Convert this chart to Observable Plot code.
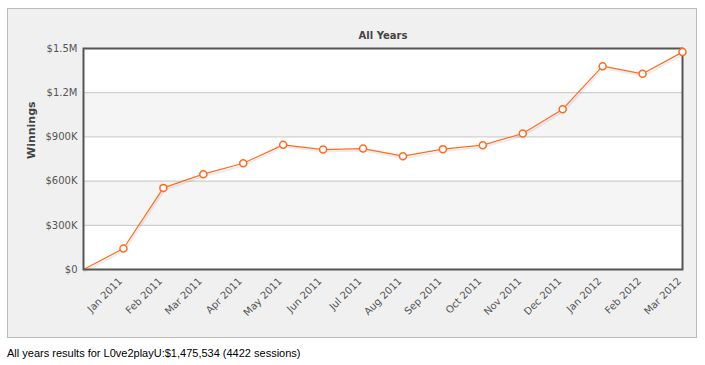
<!DOCTYPE html>
<html>
<head>
<meta charset="utf-8">
<script src="https://cdn.jsdelivr.net/npm/d3@7"></script>
<script src="https://cdn.jsdelivr.net/npm/@observablehq/plot@0.6"></script>
<style>
  html, body { margin: 0; padding: 0; background: #fff; width: 705px; height: 365px; overflow: hidden; }
  #panel { position: absolute; left: 7px; top: 8px; width: 690px; height: 330px; box-sizing: border-box;
           background: #f0f0f0; border: 1px solid #bbb; }
  #chart { position: absolute; left: 0; top: 0; }
  #caption { position: absolute; left: 7px; top: 347px; font-family: "Liberation Sans", Arial, sans-serif;
             font-size: 11px; color: #000; white-space: nowrap; }
</style>
</head>
<body>
<div id="panel"></div>
<div id="chart"></div>
<div id="caption">All years results for L0ve2playU:$1,475,534 (4422 sessions)</div>
<script>
const labels = ["", "Jan 2011", "Feb 2011", "Mar 2011", "Apr 2011", "May 2011", "Jun 2011", "Jul 2011",
  "Aug 2011", "Sep 2011", "Oct 2011", "Nov 2011", "Dec 2011", "Jan 2012", "Feb 2012", "Mar 2012"];
const winnings = [0, 142500, 554000, 647000, 721000, 846000, 814000, 821000,
  769000, 817000, 844000, 923000, 1088000, 1380000, 1328000, 1475534];
const yTicks = [0, 300000, 600000, 900000, 1200000, 1500000];
const bandLow = [300000, 900000];
const bandHigh = [600000, 1200000];

const data = labels.map((l, i) => ({label: l, value: winnings[i]}));
const bands = bandLow.map((lo, i) => ({lo, hi: bandHigh[i]}));
const fmt = v => v === 0 ? "$0" : v >= 1e6 ? "$" + (v / 1e6) + "M" : "$" + (v / 1e3) + "K";
const orange = "#ff6a22";

const chart = Plot.plot({
  width: 705, height: 340,
  marginLeft: 83, marginRight: 23, marginTop: 48, marginBottom: 71,
  style: {background: "transparent", fontFamily: "'DejaVu Sans', sans-serif", fontSize: "10px", color: "#555"},
  x: {type: "point", domain: labels, padding: 0, round: false, label: null},
  y: {domain: [0, 1500000], label: null},
  marks: [
    Plot.frame({fill: "#fff"}),
    Plot.rect(bands, {y1: "lo", y2: "hi", fill: "#f5f5f5"}),
    Plot.gridY(yTicks, {stroke: "#c4c4c4", strokeOpacity: 1}),
    Plot.axisY(yTicks, {tickSize: 0, tickPadding: 6, tickFormat: fmt, label: null}),
    Plot.axisX({tickSize: 0, tickRotate: -45, tickPadding: 7, dx: -3, dy: 3, label: null}),
    Plot.line(data, {x: "label", y: "value", stroke: "#000", strokeOpacity: 0.08, strokeWidth: 2, dy: 2, dx: 1}),
    Plot.line(data, {x: "label", y: "value", stroke: orange, strokeWidth: 1.2}),
    Plot.frame({stroke: "#555", strokeWidth: 2}),
    Plot.dot(data.filter((d, i) => i > 0), {x: "label", y: "value", r: 3.5, stroke: orange, strokeWidth: 1.5, fill: "#fff"}),
    Plot.text(["All Years"], {frameAnchor: "top", dy: -17, fontWeight: "bold", fill: "#444", fontSize: 10}),
    Plot.text(["Winnings"], {frameAnchor: "left", dx: -52, rotate: -90, fontWeight: "bold", fill: "#444", fontSize: 11})
  ]
});
document.getElementById("chart").appendChild(chart);
</script>
</body>
</html>
